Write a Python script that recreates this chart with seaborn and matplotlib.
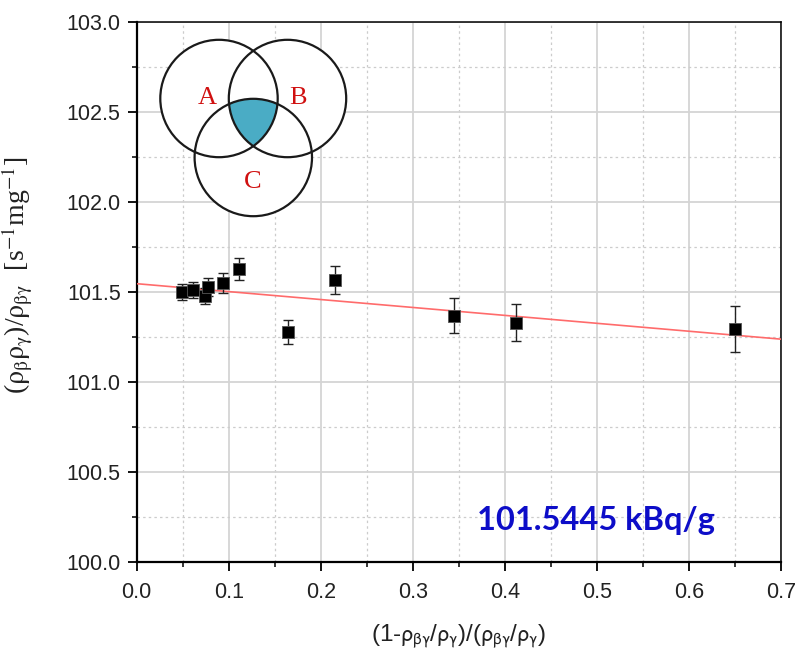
import numpy as np
import pandas as pd
import matplotlib
matplotlib.use("Agg")
import matplotlib.pyplot as plt
from matplotlib.patches import Circle, Polygon
from matplotlib.ticker import MultipleLocator
import seaborn as sns

# ---- data ----
x_vals = [0.049, 0.061, 0.074, 0.078, 0.094, 0.111, 0.164, 0.216, 0.345, 0.412, 0.650]
y_vals = [101.497, 101.509, 101.476, 101.526, 101.547, 101.626, 101.278, 101.565, 101.367, 101.328, 101.291]
y_err = [0.043, 0.044, 0.046, 0.050, 0.055, 0.060, 0.067, 0.078, 0.096, 0.103, 0.127]
fit_intercept = 101.5445
fit_slope = -0.44
x_ticks = [0.0, 0.1, 0.2, 0.3, 0.4, 0.5, 0.6, 0.7]
y_ticks = [100.0, 100.5, 101.0, 101.5, 102.0, 102.5, 103.0]
venn_labels = ["A", "B", "C"]
annotation = "101.5445 kBq/g"

sns.set_theme(style="white")
plt.rcParams['font.family'] = ['Liberation Sans', 'DejaVu Sans']

W, H = 798, 654
fig = plt.figure(figsize=(W / 100, H / 100), dpi=100)
left_px, right_px, top_px, bot_px = 136.7, 780.7, 21.7, 561.7
ax = fig.add_axes([left_px / W, 1 - bot_px / H, (right_px - left_px) / W, (bot_px - top_px) / H])

df = pd.DataFrame({"x": x_vals, "y": y_vals, "err": y_err})

# grid
ax.set_xlim(0, 0.7)
ax.set_ylim(100, 103)
ax.xaxis.set_major_locator(MultipleLocator(0.1))
ax.xaxis.set_minor_locator(MultipleLocator(0.05))
ax.yaxis.set_major_locator(MultipleLocator(0.5))
ax.yaxis.set_minor_locator(MultipleLocator(0.25))
ax.grid(True, which="major", color="#d4d4d4", lw=1.3, ls="-")
ax.grid(True, which="minor", color="#cccccc", lw=0.9, ls=(0, (2, 2.5)))
ax.set_axisbelow(True)

# fit line
fit_x = np.array([0.0, 0.7])
fit_df = pd.DataFrame({"x": fit_x, "y": fit_intercept + fit_slope * fit_x})
sns.lineplot(data=fit_df, x="x", y="y", ax=ax, color="#ff6b6b", lw=1.2, zorder=3)

# error bars + markers
ax.errorbar(df["x"], df["y"], yerr=df["err"], fmt="none", ecolor="#222222",
            elinewidth=1.0, capsize=3.8, capthick=1.0, zorder=4)
sns.scatterplot(data=df, x="x", y="y", ax=ax, marker="s", s=85, color="black",
                edgecolor="#555555", linewidth=0.6, zorder=5)

ax.set_xticks(x_ticks)
ax.set_yticks(y_ticks)
ax.set_xticklabels([f"{v:.1f}" for v in x_ticks])
ax.set_yticklabels([f"{v:.1f}" for v in y_ticks])
ax.tick_params(axis="both", which="major", direction="out", length=6.5, width=1.3,
               labelsize=15.5, color="black", labelcolor="#222222",
               bottom=True, left=True, top=False, right=False)
ax.tick_params(axis="x", which="major", pad=8)
ax.tick_params(axis="y", which="major", pad=5)
ax.tick_params(axis="both", which="minor", direction="out", length=3.8, width=1.1,
               bottom=True, left=True, top=False, right=False, color="black")

for side in ["left", "bottom"]:
    ax.spines[side].set_linewidth(1.6)
    ax.spines[side].set_color("black")
for side in ["top", "right"]:
    ax.spines[side].set_linewidth(1.1)
    ax.spines[side].set_color("black")
    ax.spines[side].set_visible(True)

ax.set_xlabel(r"(1-$\mathrm{\rho}_{\mathrm{\beta\gamma}}$/$\mathrm{\rho}_{\mathrm{\gamma}}$)/($\mathrm{\rho}_{\mathrm{\beta\gamma}}$/$\mathrm{\rho}_{\mathrm{\gamma}}$)",
              fontsize=17.5, color="#222222", labelpad=14, math_fontfamily="stixsans")
ax.set_ylabel(r"($\mathrm{\rho}_{\mathrm{\beta}}\mathrm{\rho}_{\mathrm{\gamma}}$)/$\mathrm{\rho}_{\mathrm{\beta\gamma}}$  [s$^{\mathrm{-1}}$mg$^{\mathrm{-1}}$]",
              fontsize=20, color="#222222", family=["Liberation Serif", "DejaVu Serif"],
              math_fontfamily="stix")
ax.yaxis.set_label_coords(-0.158, 0.53)

ax.text(0.499, 100.23, annotation, fontsize=23.5, fontweight="bold", color="#0d0dc8",
        family=["Lato", "DejaVu Sans"], ha="center", va="center")

# ---- Venn diagram inset (pixel coordinates) ----
ix0, ix1, iy0, iy1 = 150, 360, 30, 225
vax = fig.add_axes([ix0 / W, 1 - iy1 / H, (ix1 - ix0) / W, (iy1 - iy0) / H])
vax.set_xlim(ix0, ix1)
vax.set_ylim(iy1, iy0)
vax.axis("off")
vax.patch.set_alpha(0)

centers = [(219.0, 98.5), (287.5, 98.5), (253.3, 157.5)]
r = 58.7
for c in centers:
    vax.add_patch(Circle(c, r, facecolor="white", edgecolor="none", zorder=1))

# triple intersection polygon
pts = []
th = np.linspace(0, 2 * np.pi, 2000)
for i, c in enumerate(centers):
    bx = c[0] + r * np.cos(th)
    by = c[1] + r * np.sin(th)
    inside = np.ones_like(bx, dtype=bool)
    for j, o in enumerate(centers):
        if j != i:
            inside &= (bx - o[0]) ** 2 + (by - o[1]) ** 2 <= r ** 2 + 1e-6
    pts.extend(zip(bx[inside], by[inside]))
pts = np.array(pts)
cm = pts.mean(axis=0)
order = np.argsort(np.arctan2(pts[:, 1] - cm[1], pts[:, 0] - cm[0]))
vax.add_patch(Polygon(pts[order], closed=True, facecolor="#4aacc5", edgecolor="none", zorder=2))

for c in centers:
    vax.add_patch(Circle(c, r, facecolor="none", edgecolor="#1a1a1a", lw=1.6, zorder=3))

label_pos = [(207, 98), (298, 98), (253, 182)]
for lab, (lx, ly) in zip(venn_labels, label_pos):
    vax.text(lx, ly, lab, fontsize=19, color="#d01010", ha="center", va="center",
             family=["Liberation Serif", "DejaVu Serif"], zorder=4)

fig.savefig("out.png", dpi=100)
